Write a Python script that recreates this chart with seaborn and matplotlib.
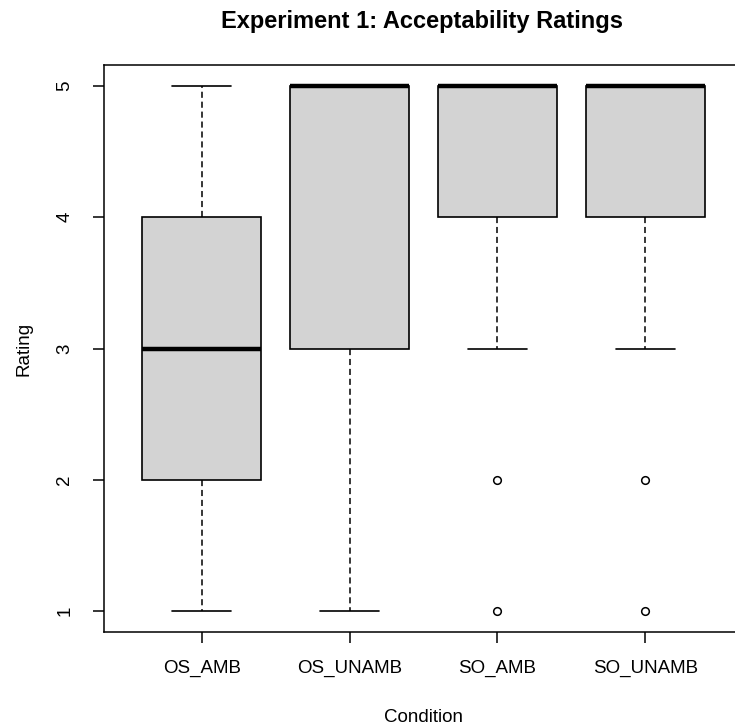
import matplotlib
matplotlib.use("Agg")
import matplotlib.pyplot as plt
import seaborn as sns
import pandas as pd

# ratings per condition
conditions = ["OS_AMB", "OS_UNAMB", "SO_AMB", "SO_UNAMB"]
os_amb = [1, 2, 2, 3, 3, 3, 4, 4, 5]
os_unamb = [1, 3, 3, 5, 5, 5, 5, 5, 5]
so_amb = [1, 2, 3, 4, 4, 4, 4, 5, 5, 5, 5, 5, 5, 5, 5, 5, 5, 5, 5, 5]
so_unamb = [1, 2, 3, 4, 4, 4, 4, 5, 5, 5, 5, 5, 5, 5, 5, 5, 5, 5, 5, 5]

rows = []
for cond, vals in zip(conditions, [os_amb, os_unamb, so_amb, so_unamb]):
    for v in vals:
        rows.append({"Condition": cond, "Rating": v})
df = pd.DataFrame(rows)

sns.set_style("ticks")
plt.rcParams['font.family'] = ['Liberation Sans', 'DejaVu Sans']
plt.rcParams['text.color'] = 'black'
plt.rcParams['axes.labelcolor'] = 'black'
plt.rcParams['xtick.color'] = 'black'
plt.rcParams['ytick.color'] = 'black'

fig = plt.figure(figsize=(7.35, 7.25), dpi=100)
ax = fig.add_axes([104 / 735, 1 - 632 / 725, (743 - 104) / 735, (632 - 65) / 725])

sns.boxplot(data=df, x="Condition", y="Rating", order=conditions, ax=ax,
            color="#D3D3D3", linecolor="black", linewidth=1.2, width=0.8,
            whis=1.5, saturation=1,
            medianprops=dict(color="black", linewidth=3.2, solid_capstyle="butt"),
            whiskerprops=dict(color="black", linewidth=1.1, linestyle=(0, (4, 2.5))),
            capprops=dict(color="black", linewidth=1.2),
            flierprops=dict(marker="o", markerfacecolor="none", markeredgecolor="black",
                            markeredgewidth=1.1, markersize=5.5))

ax.set_xlim(0.34 - 1, 4.66 - 1)
ax.set_ylim(0.84, 5.16)
ax.set_yticks([1, 2, 3, 4, 5])
ax.set_yticklabels(["1", "2", "3", "4", "5"], rotation=90, va="center")
for s in ax.spines.values():
    s.set_linewidth(1.1)
    s.set_color("black")
ax.tick_params(axis="both", length=8, width=1.1, color="black", labelsize=13.5)
ax.tick_params(axis="x", pad=12)
ax.tick_params(axis="y", pad=14)

ax.set_xlabel("Condition", fontsize=13.5, labelpad=23)
ax.set_ylabel("Rating", fontsize=13.5, labelpad=17)
fig.text(422 / 735, 1 - 21.5 / 725, "Experiment 1: Acceptability Ratings",
         fontsize=17, fontweight="bold", ha="center", va="center")

fig.savefig("out.png", dpi=100)
